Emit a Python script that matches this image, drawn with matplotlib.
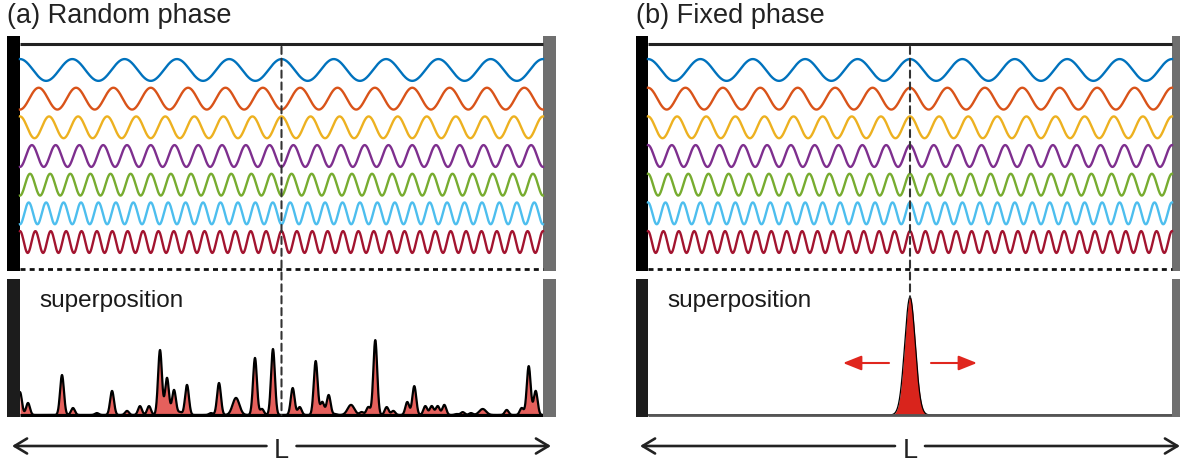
import numpy as np
import matplotlib.pyplot as plt
from matplotlib.patches import ConnectionPatch

plt.rcParams['font.family'] = ['Liberation Sans', 'DejaVu Sans']

W, H = 1180, 464

# cavity modes: number of cycles over the length L, colour, phase at centre (x pi)
mode_cycles = [10, 14, 18, 22, 26, 30, 34]
mode_colors = ['#0072BD', '#D95319', '#EDB120', '#7E2F8E', '#77AC30', '#4DBEEE', '#A2142F']
random_phase = [0, 1, 0, 1, 1, 1, 0]
fixed_phase = [0, 0, 0, 0, 0, 0, 0]

# random phase superposition: peak position (fraction of L), intensity, width
peak_pos = [0.0, 0.0153, 0.0803, 0.1013, 0.147, 0.176, 0.2046, 0.2294, 0.2467, 0.2677,
            0.2811, 0.2945, 0.306, 0.3193, 0.3652, 0.3805, 0.413, 0.4493, 0.4627, 0.4837,
            0.5214, 0.5348, 0.5654, 0.578, 0.5902, 0.6023, 0.6329, 0.6533, 0.666, 0.6793,
            0.7011, 0.7138, 0.7405, 0.7539, 0.775, 0.7872, 0.7987, 0.8113, 0.835, 0.8465,
            0.8623, 0.8847, 0.9306, 0.9593, 0.9727, 0.986]
peak_height = [9.5, 5.0, 16.6, 2.9, 0.8, 10.0, 1.7, 3.7, 3.7, 27.0,
               15.4, 10.4, 1.2, 12.5, 0.8, 13.3, 7.1, 23.7, 2.5, 27.4,
               11.2, 3.3, 22.4, 5.4, 8.3, 0.4, 4.2, 1.2, 3.3, 31.1,
               3.3, 1.7, 5.4, 12.0, 3.7, 3.7, 3.7, 4.2, 0.4, 1.2,
               0.8, 2.5, 2.1, 2.9, 20.3, 10.0]
peak_width = [0.0037] * 46
for i in (16, 26, 41):
    peak_width[i] = 0.0065

# fixed phase (mode-locked) pulse
pulse_pos = [0.5]
pulse_height = [49.0]
pulse_width = [0.0101]


def add_ax(x0, y0, x1, y1):
    ax = fig.add_axes([x0 / W, 1 - y1 / H, (x1 - x0) / W, (y1 - y0) / H])
    ax.axis('off')
    return ax


def intensity(x, pos, hgt, wid):
    y = np.zeros_like(x)
    for p, h, w in zip(pos, hgt, wid):
        y += h * np.exp(-0.5 * ((x - p) / w) ** 2)
    return y


fig = plt.figure(figsize=(W / 100, H / 100), dpi=100)

panels = [
    dict(xl=20, xr=543, bw=13, title='(a) Random phase', phase=random_phase,
         pos=peak_pos, hgt=peak_height, wid=peak_width, fill='#e5605c',
         outline=1.6, base='black', base_lw=2.3, dash_end=0.0),
    dict(xl=648, xr=1172, bw=12.5, title='(b) Fixed phase', phase=fixed_phase,
         pos=pulse_pos, hgt=pulse_height, wid=pulse_width, fill='#d9241c',
         outline=0.9, base='#555555', base_lw=2.0, dash_end=49.0),
]

px_mode = 28.7      # vertical spacing of the modes in pixels
px_int = 2.408      # pixels per intensity unit

for p in panels:
    Lpx = p['xr'] - p['xl']
    e = p['bw'] / Lpx

    # ---- cavity modes ----
    ax = add_ax(p['xl'] - p['bw'], 37, p['xr'] + p['bw'], 272)
    ax.set_xlim(-e, 1 + e)
    ax.set_ylim(-6 - (272 - 243) / px_mode, (71 - 37) / px_mode)
    x = np.linspace(0, 1, 2000)
    for i, (n, c, ph) in enumerate(zip(mode_cycles, mode_colors, p['phase'])):
        ax.plot(x, -i + 0.38 * np.cos(2 * np.pi * n * (x - 0.5) + ph * np.pi),
                color=c, lw=1.7)
    top_y = (71 - 45) / px_mode
    ax.plot([0, 1], [top_y, top_y], color='#222222', lw=2.2, solid_capstyle='butt')
    dot_y = -6 - (270 - 243) / px_mode
    ax.plot([0, 1], [dot_y, dot_y], color='#111111', lw=2.0, ls=(0, (1.8, 1.5)))
    ax.axvspan(-e, 0, color='black', lw=0)
    ax.axvspan(1, 1 + e, color='#6f6f6f', lw=0)
    ax_top = ax

    # ---- superposition ----
    ax = add_ax(p['xl'] - p['bw'], 280, p['xr'] + p['bw'], 418)
    ax.set_xlim(-e, 1 + e)
    ax.set_ylim(-2 / px_int, (416 - 280) / px_int)
    xs = np.linspace(0, 1, 5000)
    ys = intensity(xs, p['pos'], p['hgt'], p['wid'])
    ax.fill_between(xs, ys, 0, color=p['fill'], lw=0, zorder=2)
    ax.plot(xs, ys, color='black', lw=p['outline'], zorder=3)
    ax.plot([0, 1], [0, 0], color=p['base'], lw=p['base_lw'], zorder=4,
            solid_capstyle='butt')
    ax.axvspan(-e, 0, color='#1c1c1c', lw=0, zorder=5)
    ax.axvspan(1, 1 + e, color='#6f6f6f', lw=0, zorder=5)
    ax.text(19 / Lpx, (416 - 307) / px_int, 'superposition', fontsize=17.5,
            color='#1a1a1a', va='baseline', ha='left')

    # dashed centre line through both parts
    con = ConnectionPatch(xyA=(0.5, top_y - 0.1), coordsA='data', axesA=ax_top,
                          xyB=(0.5, p['dash_end']), coordsB='data', axesB=ax,
                          color='#333333', lw=1.5, ls=(0, (3.4, 2.3)), zorder=1)
    fig.add_artist(con)

    # length arrows and L
    ya = -(447 - 416) / px_int
    gap = 15 / Lpx
    tip = 8 / Lpx
    akw = dict(arrowstyle='->,head_length=0.45,head_width=0.27', color='#222222',
               lw=1.9, mutation_scale=20, shrinkA=0, shrinkB=0)
    ax.annotate('', xy=(-tip, ya), xytext=(0.5 - gap, ya), arrowprops=akw,
                annotation_clip=False)
    ax.annotate('', xy=(1 + tip, ya), xytext=(0.5 + gap, ya), arrowprops=akw,
                annotation_clip=False)
    ax.text(0.5, -(458 - 416) / px_int, 'L', fontsize=19.5, color='#222222',
            ha='center', va='baseline')

    fig.text((p['xl'] - p['bw']) / W, 1 - 23 / H, p['title'], fontsize=19.5,
             color='#222222', ha='left', va='baseline')

    if p['dash_end'] > 0:
        rkw = dict(arrowstyle='-|>,head_length=0.7,head_width=0.28', color='#e0261e',
                   lw=1.5, mutation_scale=16, shrinkA=0, shrinkB=0)
        yr = (416 - 364) / px_int
        ax.annotate('', xy=(0.5 - 67 / Lpx, yr), xytext=(0.5 - 21 / Lpx, yr),
                    arrowprops=rkw)
        ax.annotate('', xy=(0.5 + 67 / Lpx, yr), xytext=(0.5 + 21 / Lpx, yr),
                    arrowprops=rkw)

fig.savefig('out.png', dpi=100)
